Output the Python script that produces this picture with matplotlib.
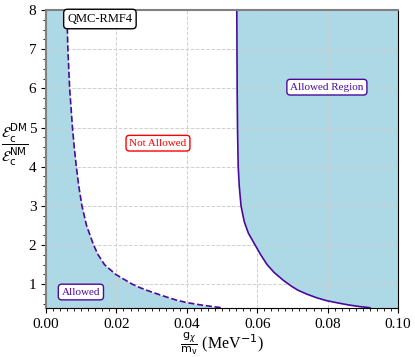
import numpy as np
import matplotlib
matplotlib.use("Agg")
import matplotlib.pyplot as plt
from matplotlib.ticker import MultipleLocator, FormatStrFormatter

plt.rcParams['font.family'] = ['Liberation Serif', 'DejaVu Serif']
plt.rcParams['mathtext.fontset'] = 'dejavusans'

# left boundary (dashed)
left_x = [0.0059, 0.0062, 0.0067, 0.0075, 0.0080, 0.0086, 0.0093, 0.0102,
          0.0115, 0.0135, 0.0148, 0.0166, 0.0198, 0.0245, 0.0270, 0.0300,
          0.0333, 0.0368, 0.0400, 0.0440, 0.0480, 0.0500]
left_y = [8.0, 7.0, 6.0, 5.0, 4.5, 4.0, 3.5, 3.0,
          2.5, 2.0, 1.75, 1.5, 1.25, 1.0, 0.9, 0.8,
          0.7, 0.6, 0.53, 0.47, 0.42, 0.40]

# right boundary (solid)
right_x = [0.0542, 0.0543, 0.0544, 0.0546, 0.0549, 0.0554, 0.0563, 0.0575,
           0.0594, 0.0610, 0.0628, 0.0648, 0.0674, 0.0697, 0.0715, 0.0740,
           0.0770, 0.0797, 0.0830, 0.0860, 0.0890, 0.0920]
right_y = [8.0, 6.0, 5.0, 4.0, 3.5, 3.0, 2.6, 2.3,
           2.0, 1.75, 1.5, 1.3, 1.1, 0.95, 0.85, 0.75,
           0.65, 0.58, 0.52, 0.47, 0.43, 0.40]

ymin, ymax = 0.39, 8.0
xmin, xmax = 0.0, 0.1
purple = '#4b0a9a'

fig = plt.figure(figsize=(4.15, 3.57), dpi=100)
ax = fig.add_axes([0.111, 0.137, 0.848, 0.835])

ax.fill_betweenx(left_y, 0, left_x, color='lightblue', lw=0)
ax.fill_betweenx(right_y, right_x, xmax, color='lightblue', lw=0)
ax.plot(left_x, left_y, '--', color=purple, lw=1.2)
ax.plot(right_x, right_y, '-', color=purple, lw=1.2)

ax.set_xlim(xmin, xmax)
ax.set_ylim(ymin, ymax)
ax.xaxis.set_major_locator(MultipleLocator(0.02))
ax.xaxis.set_minor_locator(MultipleLocator(0.002))
ax.yaxis.set_major_locator(MultipleLocator(1))
ax.yaxis.set_minor_locator(MultipleLocator(0.25))
ax.xaxis.set_major_formatter(FormatStrFormatter('%.2f'))
ax.tick_params(labelsize=11)
ax.grid(True, which='major', ls='--', color='#d0d0d0', lw=0.7)

for s in ['top', 'left']:
    ax.spines[s].set_color('grey')
    ax.spines[s].set_linewidth(1.5)

ax.set_xlabel(r'$\frac{\mathrm{g}_\chi}{\mathrm{m}_\mathrm{v}}$ (MeV$^{-1}$)', fontsize=11.5)
ax.xaxis.set_label_coords(0.5, -0.12)
ax.xaxis.label.set_va('center')
ax.set_ylabel(r'$\dfrac{\mathcal{E}_\mathrm{c}^\mathrm{DM}}{\mathcal{E}_\mathrm{c}^\mathrm{NM}}$',
              fontsize=10.5, rotation=0, va='center', ha='center')
ax.yaxis.set_label_coords(-0.09, 0.55)

ax.text(0.0153, 7.77, 'QMC-RMF4', fontsize=9, ha='center', va='center',
        bbox=dict(boxstyle='round,pad=0.3', fc='white', ec='black'))
ax.text(0.0318, 4.6, 'Not Allowed', fontsize=8, color='red', ha='center', va='center',
        bbox=dict(boxstyle='round,pad=0.3', fc='white', ec='red'))
ax.text(0.0798, 6.03, 'Allowed Region', fontsize=8, color=purple, ha='center', va='center',
        bbox=dict(boxstyle='round,pad=0.3', fc='white', ec=purple))
ax.text(0.0099, 0.8, 'Allowed', fontsize=8, color=purple, ha='center', va='center',
        bbox=dict(boxstyle='round,pad=0.3', fc='white', ec=purple))

fig.savefig('out.png', dpi=100)
